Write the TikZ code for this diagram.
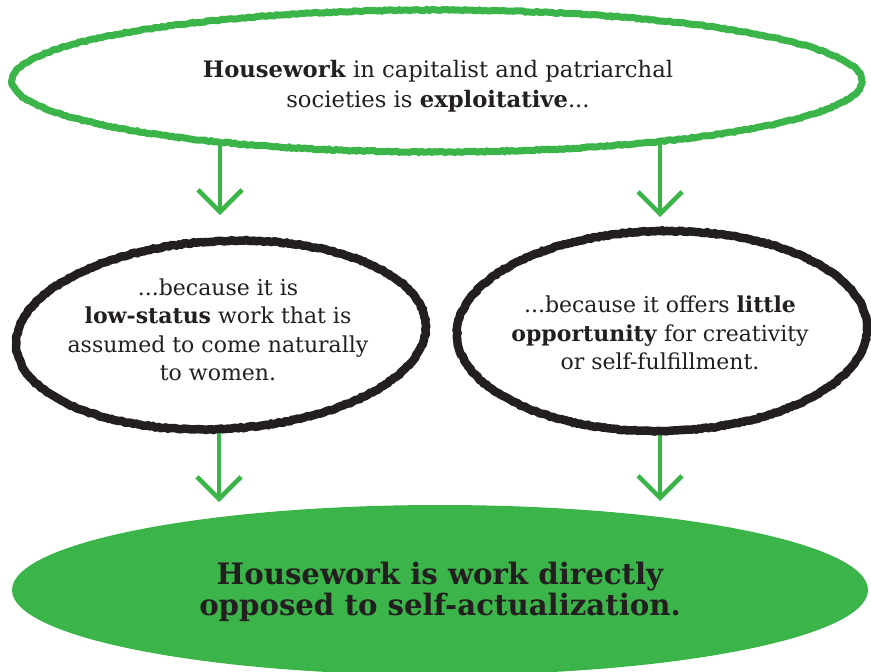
\documentclass[tikz,border=0pt]{standalone}
\usepackage{fontspec}
\setmainfont{DejaVu Serif}
\newfontfamily\heavyfont{DejaVu Serif Condensed}[FakeStretch=1.1]
\usetikzlibrary{shapes.geometric,arrows.meta,decorations.pathmorphing,backgrounds}
\definecolor{hgreen}{HTML}{3BB54A}
\definecolor{ink}{HTML}{231F20}
\tikzset{
 rough/.style={decorate, decoration={random steps, segment length=2.5pt, amplitude=0.6pt}},
 greenoval/.style={ellipse, draw=hgreen, line width=7pt, fill=white, inner sep=0pt, rough},
 blackoval/.style={ellipse, draw=ink, line width=8.5pt, fill=white, inner sep=0pt, rough},
 resultoval/.style={ellipse, fill=hgreen, inner sep=0pt},
 bodytext/.style={align=center, text=ink, inner sep=0pt, font=\fontsize{22}{28.5}\selectfont},
 toptext/.style={align=center, text=ink, inner sep=0pt, font=\fontsize{22.7}{30}\selectfont},
 headtext/.style={align=center, text=ink, inner sep=0pt, font=\heavyfont\bfseries\fontsize{29.5}{31}\selectfont},
 downarrow/.style={draw=hgreen, line width=4.5pt, -{Straight Barb[length=22pt,width=44pt]}, line cap=round, line join=round},
}
\begin{document}
\begin{tikzpicture}[x=1pt,y=-1pt]
\useasboundingbox (0,0) rectangle (871,672);
\clip (0,0) rectangle (871,672);
% ovals
\node[greenoval, minimum width=850pt, minimum height=142pt] (top) at (437,81) {};
\node[blackoval, minimum width=410pt, minimum height=188pt, rotate=3] (left) at (221,335) {};
\node[blackoval, minimum width=410pt, minimum height=200pt, rotate=1] (right) at (662,331) {};
\node[resultoval, minimum width=856pt, minimum height=170pt] (result) at (440,590) {};
% texts
\node[toptext] (topT) at (438,86) {\textbf{Housework} in capitalist and patriarchal\\societies is \textbf{exploitative}...};
\node[bodytext] (leftT) at (218,330) {...because it is\\\textbf{low-status} work that is\\assumed to come naturally\\to women.};
\node[bodytext] (rightT) at (660,333) {...because it offers \textbf{little}\\\textbf{opportunity} for creativity\\or self-fulfillment.};
\node[headtext] (resultT) at (440,592) {Housework is work directly\\opposed to self-actualization.};
% arrow tips
\coordinate (tipA) at (220,215);
\coordinate (tipB) at (660,217);
\coordinate (tipC) at (219,502);
\coordinate (tipD) at (660,501);
\begin{scope}[on background layer]
\draw[downarrow] (top.center -| tipA) -- (tipA);
\draw[downarrow] (top.center -| tipB) -- (tipB);
\draw[downarrow] (left.center -| tipC) -- (tipC);
\draw[downarrow] (right.center -| tipD) -- (tipD);
\end{scope}
\end{tikzpicture}
\end{document}
